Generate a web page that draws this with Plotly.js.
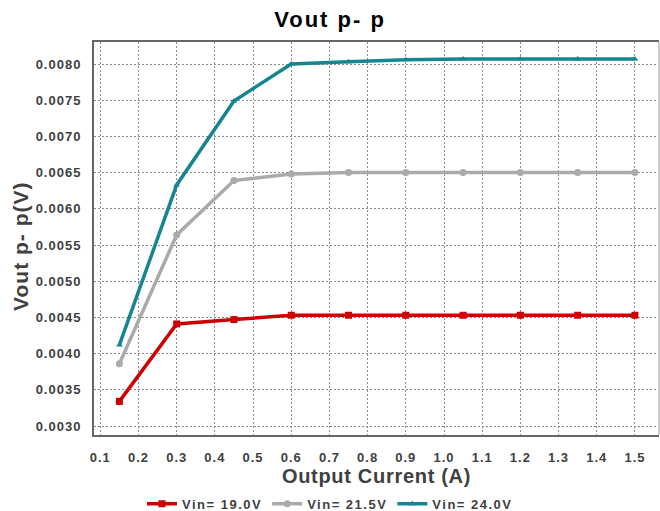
<!DOCTYPE html>
<html>
<head>
<meta charset="utf-8">
<script src="https://cdn.plot.ly/plotly-3.0.1.min.js"></script>
<style>
html,body{margin:0;padding:0;background:#fff;}
#chart{width:660px;height:511px;}
.xtick text, .ytick text { letter-spacing: 1px; }
.legendtext { letter-spacing: 1.5px; }
.gtitle { letter-spacing: 2px; }
.xtitle { letter-spacing: 0.7px; }
.annotation-text { letter-spacing: 1px; }
</style>
</head>
<body>
<div id="chart"></div>
<script>
var current = [0.15, 0.3, 0.45, 0.6, 0.75, 0.9, 1.05, 1.2, 1.35, 1.5];
var vin19  = [0.00334, 0.00441, 0.00447, 0.00453, 0.00453, 0.00453, 0.00453, 0.00453, 0.00453, 0.00453];
var vin215 = [0.00386, 0.00564, 0.00639, 0.00648, 0.00650, 0.00650, 0.00650, 0.00650, 0.00650, 0.00650];
var vin24  = [0.00412, 0.00633, 0.00749, 0.00800, 0.00803, 0.00806, 0.00807, 0.00807, 0.00807, 0.00807];
var seriesNames = ['Vin= 19.0V', 'Vin= 21.5V', 'Vin= 24.0V'];
var xTicks = [0.1,0.2,0.3,0.4,0.5,0.6,0.7,0.8,0.9,1.0,1.1,1.2,1.3,1.4,1.5];
var yTicks = [0.0030,0.0035,0.0040,0.0045,0.0050,0.0055,0.0060,0.0065,0.0070,0.0075,0.0080];

var colors = ['#cc0000', '#aaaaaa', '#15868f'];
var symbols = ['square', 'circle', 'triangle-up'];
var sizes = [7, 7, 6];
var ys = [vin19, vin215, vin24];

var traces = ys.map(function(y, i){
  return {
    x: current, y: y, name: '<b>' + seriesNames[i] + '</b>', type: 'scatter', mode: 'lines+markers',
    line: {color: colors[i], width: 3.5},
    marker: {symbol: symbols[i], size: sizes[i], color: colors[i]}
  };
});

var font = 'Liberation Sans, Arial, sans-serif';
var layout = {
  width: 660, height: 511,
  margin: {l: 94, r: 1, t: 42, b: 76},
  paper_bgcolor: '#fff', plot_bgcolor: '#fff',
  font: {family: font, color: '#404040'},
  title: {text: '<b>Vout p- p</b>', x: 0.5, xanchor: 'center', y: 0.962, yanchor: 'middle',
          font: {family: font, size: 22, color: '#000'}},
  xaxis: {
    range: [0.0835, 1.563], tickvals: xTicks, ticktext: xTicks.map(function(v){return '<b>'+v.toFixed(1)+'</b>';}),
    showgrid: true, gridcolor: '#8a8a8a', griddash: '2px,2px', gridwidth: 1,
    zeroline: false, showline: true, linecolor: '#666', linewidth: 2, mirror: true,
    ticks: 'outside', ticklen: 9, tickcolor: 'rgba(0,0,0,0)',
    tickfont: {family: font, size: 13, color: '#404040'},
    title: {text: '<b>Output Current (A)</b>', standoff: 3, font: {family: font, size: 20, color: '#404040'}}
  },
  yaxis: {
    range: [0.002876, 0.008304], tickvals: yTicks, ticktext: yTicks.map(function(v){return '<b>'+v.toFixed(4)+'</b>';}),
    showgrid: true, gridcolor: '#8a8a8a', griddash: '2px,2px', gridwidth: 1,
    zeroline: false, showline: true, linecolor: '#666', linewidth: 2, mirror: false,
    ticks: 'outside', ticklen: 8, tickcolor: 'rgba(0,0,0,0)',
    tickfont: {family: font, size: 13, color: '#404040'}
  },
  annotations: [
    {text: '<b>Vout p- p(V)</b>', xref: 'paper', yref: 'paper', x: -0.13, y: 0.48,
     xanchor: 'center', yanchor: 'middle', textangle: -90, showarrow: false,
     font: {family: font, size: 21, color: '#404040'}}
  ],
  shapes: [
    {type: 'line', xref: 'paper', yref: 'paper', x0: 1, x1: 1, y0: 0, y1: 1, line: {color: '#cccccc', width: 2}}
  ],
  showlegend: true,
  legend: {
    orientation: 'h', xref: 'container', yref: 'container', x: 0.5, xanchor: 'center', y: 0.014, yanchor: 'middle',
    font: {family: font, size: 13, color: '#404040'}, itemwidth: 30, tracegroupgap: 0
  }
};
Plotly.newPlot('chart', traces, layout, {displayModeBar: false, staticPlot: true});
</script>
</body>
</html>
